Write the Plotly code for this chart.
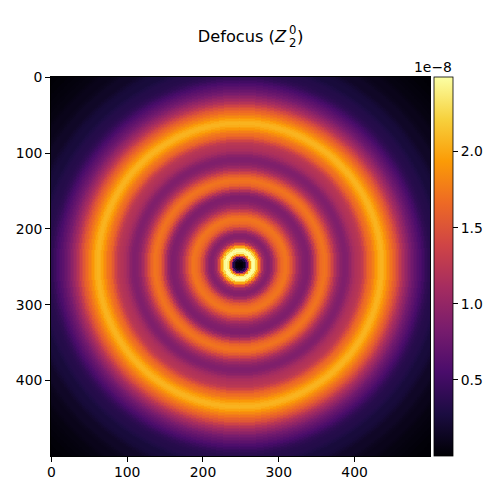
import numpy as np
import plotly.graph_objects as go

# Radial intensity profile (units of 1e-8), one value per 2 data units of radius
radial_step = 2
profile = [0.01,0.01,0.03,0.1,0.28,0.65,1.4,2.0,2.4,2.49,2.45,2.25,2.0,1.7,1.42,1.2,1.05,0.97,0.92,0.9,
           0.92,0.98,1.07,1.18,1.32,1.45,1.55,1.62,1.67,1.7,1.72,1.72,1.67,1.6,1.52,1.42,1.32,1.22,1.12,1.05,
           0.99,0.94,0.9,0.88,0.87,0.87,0.91,0.97,1.06,1.18,1.3,1.43,1.54,1.62,1.67,1.7,1.72,1.69,1.64,1.57,
           1.48,1.38,1.28,1.18,1.1,1.03,0.97,0.93,0.9,0.88,0.88,0.9,0.94,0.99,1.05,1.1,1.14,1.17,1.19,1.21,
           1.24,1.29,1.37,1.46,1.55,1.63,1.68,1.72,1.78,1.85,1.92,1.98,2.03,2.06,2.06,2.03,1.98,1.91,1.84,1.78,
           1.72,1.66,1.6,1.53,1.45,1.37,1.28,1.2,1.13,1.07,1.01,0.95,0.89,0.83,0.78,0.74,0.7,0.66,0.62,0.58,
           0.54,0.5,0.46,0.42,0.39,0.37,0.35,0.34,0.33,0.33,0.32,0.3,0.28,0.26,0.25,0.25,0.25,0.24,0.23,0.21,
           0.19,0.17,0.16,0.16,0.16,0.16,0.15,0.13,0.12,0.11,0.1,0.1,0.1,0.1,0.09,0.08,0.07,0.06,0.06,0.06,
           0.05,0.05,0.04,0.04,0.04,0.03,0.03,0.03,0.02,0.02,0.02,0.02,0.01,0.01,0.01,0.01,0.01,0.01,0.01,0.0]
x_ticks = [0, 100, 200, 300, 400]
y_ticks = [0, 100, 200, 300, 400]
cbar_ticks = [0.5e-8, 1.0e-8, 1.5e-8, 2.0e-8]
cbar_labels = ["0.5", "1.0", "1.5", "2.0"]
z_max = 2.49e-8
title_main = "Defocus (<i>Z</i>"
center_x, center_y = 248, 247

prof = np.array(profile) * 1e-8
coords = np.arange(500)
xx, yy = np.meshgrid(coords, coords)
r = np.hypot(xx - center_x, yy - center_y)
idx = np.clip(np.rint(r / radial_step).astype(int), 0, len(prof) - 1)
z = prof[idx]

L, R, T, B = 51, 430, 77, 456
font = dict(family="DejaVu Sans", size=13.9, color="black")
fig = go.Figure(go.Heatmap(
    x=coords, y=coords, z=z, colorscale="Inferno", zmin=0, zmax=z_max, zsmooth="best",
    hoverinfo="skip",
    colorbar=dict(
        x=(434-L)/(R-L), xanchor="left", xpad=0, ypad=0, y=0, yanchor="bottom",
        len=1, lenmode="fraction", thickness=19, thicknessmode="pixels",
        outlinewidth=0.8, outlinecolor="black", tickmode="array",
        tickvals=cbar_ticks, ticktext=cbar_labels, ticks="outside", ticklen=5,
        tickwidth=0.8, tickcolor="black", tickfont=font),
))
axis = dict(showgrid=False, zeroline=False, ticks="outside", ticklen=5, tickwidth=0.8,
            tickcolor="black", showline=True, linecolor="black", linewidth=0.8, mirror=True,
            tickfont=font, range=[-0.5, 499.5], tickmode="array")
fig.update_layout(
    width=500, height=500, paper_bgcolor="white", plot_bgcolor="white", font=font,
    margin=dict(l=L, r=500-R, t=T, b=500-B, autoexpand=False), autosize=False,
    xaxis=dict(axis, tickvals=x_ticks, ticklabelstandoff=-2),
    yaxis=dict(axis, tickvals=y_ticks, range=[499.5, -0.5]),
    title=dict(text=title_main, x=286/500, xanchor="right", y=1-36/500, yanchor="middle",
               font=dict(family="DejaVu Sans", size=16.2, color="black")),
)
def note(text, px, py, size, anchor="center"):
    fig.add_annotation(text=text, xref="paper", yref="paper", x=(px-L)/(R-L), y=(B-py)/(B-T),
                       showarrow=False, xanchor=anchor, yanchor="middle", borderpad=0,
                       font=dict(family="DejaVu Sans", size=size, color="black"))
note("0", 292.5, 30, 11.7)
note("2", 292.5, 43, 11.7)
note(")", 300.5, 36, 16.7)
note("1e\u22128", 453, 67, 13.9, "right")
fig.write_html("out.html", config={"displayModeBar": False},
               post_script="document.body.style.margin='0';")
